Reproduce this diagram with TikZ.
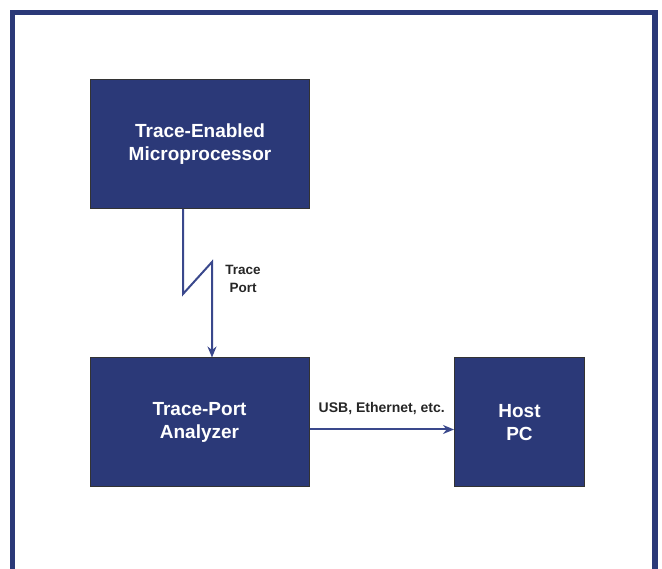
\documentclass[tikz,border=0pt]{standalone}
\usepackage{fontspec}
\setmainfont{Liberation Sans}
\usetikzlibrary{arrows.meta, positioning, calc}
\definecolor{navyblk}{RGB}{43, 57, 120}
\definecolor{navyln}{RGB}{58, 72, 140}

\begin{document}
\begin{tikzpicture}[
        x=1pt, y=-1pt,
        blk/.style={rectangle, draw=black!80, line width=1pt, fill=navyblk, text=white, minimum width=219pt, minimum height=129pt, align=center, font=\fontsize{19}{23.5}\selectfont\bfseries},
        hostblk/.style={blk, minimum width=130pt},
        link/.style={draw=navyln, line width=2pt, -{Stealth[length=11pt, width=9pt]}},
        lbl/.style={align=center, inner sep=0pt, text=black!85, font=\fontsize{13.5}{18.5}\selectfont\bfseries}
    ]
        \useasboundingbox (0,0) rectangle (662,569);
        % outer frame, open at the bottom
        \draw[navyblk, line width=5.5pt] (12.5,575) -- (12.5,12.5) -- (655,12.5) -- (655,575);

        \node[blk] (mp) at (200,144) {Trace-Enabled\\Microprocessor};
        \node[blk] (ana) at (199.5,422.5) {Trace-Port\\Analyzer};
        \node[hostblk] (host) at (519.5,422.5) {Host\\PC};

        % trace port link with the kink
        \coordinate (k1) at (183,294);
        \coordinate (k2) at (212,262);
        \draw[link] (mp.south -| k1) -- (k1) -- (k2) -- (k2 |- ana.north);
        \node[lbl] (port) at (243,279) {Trace\\Port};

        \draw[link] ([yshift=-7pt]ana.east) -- ([yshift=-7pt]host.west)
            node[lbl, font=\fontsize{14}{18}\selectfont\bfseries, midway, above=14pt] (usb) {USB, Ethernet, etc.};
    \end{tikzpicture}
\end{document}
